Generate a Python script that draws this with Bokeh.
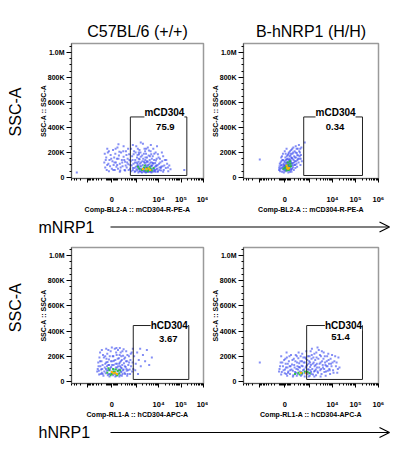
import numpy as np
from bokeh.plotting import figure
from bokeh.layouts import column, row
from bokeh.models import (Range1d, FixedTicker, CustomJSTickFormatter, Label, Arrow, OpenHead)
from bokeh.embed import file_html
from bokeh.resources import INLINE

FONT = "Liberation Sans"
COFACTOR = 164.0

# ---------------- texts ----------------
col_titles = ["C57BL/6 (+/+)", "B-hNRP1 (H/H)"]
row_markers = ["mNRP1", "hNRP1"]
x_axis_labels = ["Comp-BL2-A :: mCD304-R-PE-A", "Comp-RL1-A :: hCD304-APC-A"]
y_axis_label = "SSC-A :: SSC-A"
big_y_label = "SSC-A"

# ---------------- axis ticks ----------------
y_tick_vals = [0, 200000, 400000, 600000, 800000, 1000000]
y_tick_text = ["0", "200K", "400K", "600K", "800K", "1.0M"]
x_tick_vals = [-1000, 0, 1000, 10000, 100000, 1000000]
x_tick_text = ["", "0", "", "10\u2074", "10\u2075", "10\u2076"]

# ---------------- gates ----------------
gate_names = ["mCD304", "mCD304", "hCD304", "hCD304"]
gate_pcts = ["75.9", "0.34", "3.67", "51.4"]
gate_x0 = [538, 538, 731, 731]
gate_x1 = [182000, 202000, 223000, 202000]
gate_y0 = [16000, 16000, 16000, 16000]
gate_y1 = [484000, 484000, 444000, 444000]
name_x = [18150, 13500, 30000, 30000]
name_y = [516000, 516000, 446000, 446000]
pct_x = [20000, 12800, 27000, 22000]
pct_y = [405000, 405000, 341000, 349000]

# ---------------- events (fluorescence, SSC in K) ----------------
p1_blue = [
    (-140, 120), (-120, 80), (-100, 160), (-90, 60), (-70, 200), (-60, 110), (-40, 140), (-30, 90),
    (-20, 180), (0, 70), (10, 130), (20, 220), (30, 100), (40, 160), (50, 60), (60, 190), (70, 120),
    (80, 85), (90, 150), (100, 240), (110, 70), (130, 175), (150, 110), (160, 55), (180, 200),
    (200, 140), (220, 90), (250, 165), (280, 60), (300, 125), (330, 210), (360, 80), (400, 150),
    (430, 105), (470, 185), (520, 70), (560, 130), (580, 230), (-80, 230), (250, 250), (120, 265),
    (-130, 190), (-110, 140), (-80, 100), (-50, 210), (-10, 150), (25, 60), (45, 120), (65, 230),
    (95, 100), (120, 150), (140, 205), (170, 80), (210, 120), (240, 210), (270, 140), (320, 95),
    (350, 180), (380, 120), (420, 230), (450, 60), (490, 140), (540, 100), (600, 50),
    (650, 170), (700, 60), (750, 110), (800, 210), (850, 45), (900, 140), (950, 85), (1000, 250),
    (1050, 120), (1100, 55), (1150, 180), (1200, 95), (1250, 40), (1300, 150), (1350, 75),
    (1400, 220), (1450, 110), (1500, 50), (1600, 165), (1700, 90), (1800, 40), (1900, 130),
    (2000, 270), (2100, 70), (2200, 190), (2300, 55), (2400, 115), (2500, 45), (2600, 160),
    (2700, 85), (2800, 230), (2900, 60), (3000, 130), (3200, 45), (3400, 100), (3600, 175),
    (3800, 65), (4000, 140), (4200, 50), (4400, 210), (4600, 90), (4800, 40), (5000, 150),
    (5300, 70), (5600, 115), (6000, 55), (6400, 190), (6800, 85), (7200, 45), (7600, 135),
    (8000, 65), (8500, 250), (9000, 100), (9500, 50), (10000, 160), (11000, 80), (12000, 120),
    (13000, 55), (14000, 200), (15000, 90), (17000, 60), (19000, 140), (21000, 75), (24000, 110),
    (27000, 50), (30000, 95), (34000, 65), (1300, 200), (2500, 210), (3300, 240), (5800, 230),
    (700, 260), (1600, 280), (4500, 260),
    (620, 95), (680, 140), (760, 185), (820, 75), (880, 120), (940, 200), (1020, 65), (1080, 160),
    (1130, 110), (1180, 230), (1230, 70), (1280, 125), (1330, 185), (1380, 50), (1420, 145),
    (1480, 90), (1550, 200), (1650, 120), (1750, 70), (1850, 175), (1950, 100), (2050, 150),
    (2150, 45), (2250, 125), (2350, 230), (2450, 75), (2550, 140), (2650, 100), (2750, 190),
    (2850, 120), (2950, 45), (3050, 160), (3300, 125), (3500, 80), (3700, 215), (3900, 105),
    (4100, 170), (4300, 120), (4500, 45), (4700, 185), (4900, 120), (5200, 95), (5500, 170),
    (5900, 110), (6300, 140), (6600, 50), (7000, 115), (7400, 200), (7800, 95), (8200, 150),
    (8800, 70), (9300, 185), (10500, 110), (11500, 150), (12500, 75), (14500, 130), (16000, 170),
    (18000, 95), (22000, 140), (26000, 80),
    (700, 75), (900, 50), (1100, 90), (1500, 65), (1700, 45), (2100, 55), (2700, 40), (3100, 90),
    (3700, 45), (4300, 75), (4900, 95), (5500, 45), (6200, 70), (7000, 60), (8000, 90), (9000, 45),
    (11000, 60), (13000, 85), (16000, 45), (-50, 50), (150, 45), (300, 55), (-3000, 40),
    (140000, 60),
]
p1_mid = [(1400, 70), (1800, 60), (2200, 80), (2600, 55), (3000, 75), (3500, 60), (4000, 85),
          (4500, 65), (5000, 55), (2400, 95), (3300, 50), (1200, 85), (6000, 75)]
p1_hot = [(2800, 65), (3600, 72), (4200, 60), (2000, 68)]

p2_blue = [
    (-100, 60), (-90, 90), (-80, 50), (-70, 120), (-60, 75), (-50, 100), (-45, 45), (-40, 140),
    (-30, 65), (-25, 85), (-20, 110), (-10, 55), (-5, 130), (0, 70), (5, 95), (10, 160), (15, 50),
    (20, 80), (25, 120), (30, 60), (35, 145), (40, 100), (45, 75), (50, 180), (55, 55), (60, 125),
    (65, 90), (70, 200), (75, 65), (80, 150), (85, 110), (90, 45), (95, 85), (100, 175), (105, 130),
    (110, 60), (115, 220), (120, 95), (125, 155), (130, 70), (140, 190), (145, 115), (150, 80),
    (160, 240), (165, 140), (170, 60), (180, 170), (185, 100), (190, 210), (200, 130), (210, 75),
    (220, 250), (230, 160), (240, 110), (250, 195), (260, 85), (270, 140), (280, 230), (300, 175),
    (310, 120), (320, 260), (340, 150), (360, 200), (380, 100), (400, 180), (420, 240), (440, 130),
    (-1000, 143), (600, 280), (-60, 160), (-30, 190), (0, 210), (30, 230), (-15, 40), (60, 40),
    (120, 45),
    (-95, 75), (-85, 110), (-75, 65), (-65, 95), (-55, 130), (-35, 80), (-15, 100), (0, 120),
    (8, 85), (12, 60), (18, 140), (22, 105), (28, 75), (33, 170), (38, 120), (42, 90), (48, 150),
    (52, 65), (58, 110), (62, 190), (68, 140), (72, 85), (78, 120), (82, 170), (88, 95), (92, 210),
    (98, 140), (102, 70), (108, 190), (112, 120), (118, 160), (128, 110), (135, 230), (142, 150),
    (148, 95), (155, 200), (175, 120), (195, 160), (205, 100), (215, 200), (235, 130), (245, 230),
    (265, 180), (290, 150), (330, 210), (350, 170), (370, 230), (390, 150), (-45, 170), (-25, 140),
    (15, 190), (-5, 90),
]
p2_mid = [(0, 75), (20, 90), (40, 65), (60, 100), (80, 80), (100, 110), (30, 55), (70, 60),
          (110, 90), (50, 120), (-20, 70), (90, 130)]
p2_hot = [(40, 80), (70, 75), (30, 95), (60, 70), (45, 72)]

p3_blue = [
    (-350, 80), (-300, 120), (-280, 55), (-250, 160), (-220, 95), (-200, 70), (-180, 130),
    (-160, 45), (-150, 190), (-130, 110), (-110, 65), (-100, 150), (-90, 85), (-80, 220), (-70, 50),
    (-60, 130), (-50, 175), (-40, 95), (-30, 60), (-20, 240), (-10, 115), (0, 80), (10, 160),
    (20, 50), (25, 200), (30, 130), (40, 95), (50, 260), (55, 70), (60, 170), (70, 110), (80, 45),
    (85, 210), (90, 140), (100, 80), (110, 250), (115, 120), (120, 60), (130, 185), (140, 95),
    (150, 150), (160, 50), (170, 230), (180, 110), (190, 75), (200, 170), (210, 130), (220, 60),
    (235, 205), (250, 95), (260, 145), (280, 70), (300, 190), (320, 115), (340, 240), (360, 85),
    (380, 160), (400, 60), (430, 130), (460, 200), (500, 95), (540, 170), (580, 120), (620, 230),
    (680, 150), (730, 100), (-250, 230), (-180, 60), (-120, 200), (-40, 40), (60, 40), (140, 40),
    (200, 45), (0, 270), (80, 265), (-60, 250), (300, 60), (380, 45),
    (-330, 100), (-310, 150), (-290, 85), (-270, 190), (-240, 120), (-230, 60), (-210, 160),
    (-190, 100), (-170, 210), (-140, 80), (-120, 140), (-105, 100), (-95, 180), (-85, 120),
    (-75, 155), (-65, 90), (-55, 60), (-45, 130), (-35, 200), (-25, 105), (-15, 160), (-5, 70),
    (5, 130), (15, 200), (35, 165), (45, 60), (65, 140), (75, 230), (95, 110), (105, 180),
    (125, 90), (135, 140), (145, 210), (155, 120), (165, 80), (175, 160), (185, 200), (195, 105),
    (215, 240), (230, 90), (270, 180), (290, 120), (330, 160), (350, 100), (390, 210), (420, 90),
    (470, 150), (520, 60), (560, 220), (650, 80), (-200, 250), (-100, 260), (150, 265), (250, 255),
    (800, 200), (950, 140), (1100, 230), (1300, 170), (1600, 120), (2000, 210), (2500, 160),
    (3000, 250), (3800, 130), (5000, 190), (900, 90), (1200, 60), (1500, 260), (700, 260),
]
p3_mid = [(-80, 70), (-40, 90), (0, 60), (20, 100), (50, 75), (80, 55), (110, 85), (140, 65),
          (-20, 50), (30, 80), (70, 95), (100, 50), (-60, 105), (160, 90)]
p3_hot = [(30, 65), (60, 70), (90, 60), (0, 75)]

p4_blue = [
    (-100, 80), (-80, 120), (-60, 55), (-40, 150), (-20, 90), (0, 65), (10, 180), (20, 110),
    (40, 45), (50, 140), (60, 80), (80, 200), (90, 60), (100, 120), (120, 95), (140, 170), (160, 50),
    (180, 130), (200, 75), (220, 210), (240, 100), (260, 150), (280, 60), (300, 185), (320, 115),
    (350, 80), (380, 160), (400, 45), (430, 125), (460, 220), (500, 90), (540, 150), (580, 65),
    (620, 190), (660, 110), (700, 240), (720, 70), (-60, 200), (30, 230), (150, 40), (250, 45),
    (450, 55), (600, 40), (-1000, 150),
    (-90, 100), (-70, 150), (-50, 75), (-30, 120), (-10, 170), (5, 95), (15, 140), (25, 60),
    (35, 190), (45, 110), (55, 70), (70, 160), (85, 120), (95, 90), (110, 210), (130, 135),
    (150, 85), (170, 180), (190, 110), (210, 160), (230, 70), (250, 200), (270, 120), (290, 95),
    (310, 230), (330, 145), (360, 110), (390, 200), (420, 75), (450, 160), (480, 120), (520, 190),
    (560, 95), (600, 150), (640, 75), (680, 180), (710, 120),
    (760, 130), (800, 60), (850, 200), (900, 95), (950, 160), (1000, 45), (1050, 115), (1100, 240),
    (1150, 75), (1200, 180), (1300, 100), (1400, 55), (1500, 150), (1600, 220), (1700, 85),
    (1800, 130), (1900, 50), (2000, 190), (2100, 110), (2300, 70), (2500, 250), (2700, 140),
    (2900, 90), (3100, 200), (3300, 60), (3500, 160), (3800, 110), (4100, 230), (4400, 75),
    (4700, 150), (5000, 45), (5400, 120), (5800, 200), (6200, 85), (6700, 170), (7200, 100),
    (7800, 60), (8500, 140), (9500, 210), (10500, 90), (12000, 160), (14000, 120), (16000, 70),
    (18000, 190), (20000, 110), (1250, 260), (2200, 270), (3000, 40), (900, 40), (1600, 40),
    (780, 170), (830, 95), (880, 140), (930, 70), (980, 200), (1030, 150), (1080, 90), (1130, 130),
    (1180, 60), (1230, 210), (1350, 140), (1450, 190), (1550, 80), (1650, 120), (1750, 170),
    (1850, 95), (1950, 230), (2050, 140), (2200, 80), (2400, 180), (2600, 110), (2800, 210),
    (3000, 150), (3200, 100), (3400, 240), (3700, 130), (4000, 180), (4300, 100), (4600, 200),
    (4900, 130), (5200, 80), (5600, 160), (6000, 120), (6500, 220), (7000, 140), (7500, 90),
    (8200, 180), (9000, 120), (10000, 150), (11000, 70), (13000, 200), (15000, 150), (17000, 100),
]
p4_mid = [(200, 60), (300, 70), (450, 65), (600, 80), (800, 75), (350, 55), (1000, 65)]
p4_hot = [(400, 70), (700, 65)]

panel_events = [(p1_blue, p1_mid, p1_hot), (p2_blue, p2_mid, p2_hot),
                (p3_blue, p3_mid, p3_hot), (p4_blue, p4_mid, p4_hot)]
density_colors = ["#3344ee", "#22c03a", "#ffb300"]
density_alpha = [0.6, 0.9, 1.0]


def T(v):
    """biexponential-like display transform (arcsinh, decades)."""
    return np.arcsinh(np.asarray(v, dtype=float) / COFACTOR) / np.log(10)


# minor ticks of the biex axis
x_minor = []
for dec in [100, 1000, 10000, 100000]:
    for k in range(1, 10):
        x_minor.append(k * dec)
        x_minor.append(-k * dec)
for k in [20, 40, 60, 80]:
    x_minor += [k, -k]
x_minor = [float(T(v)) for v in sorted(set(x_minor)) if v not in x_tick_vals]
x_major = [float(T(v)) for v in x_tick_vals]
x_labels = {f"{t:.3f}": s for t, s in zip(x_major, x_tick_text)}
y_labels = {str(v): s for v, s in zip(y_tick_vals, y_tick_text)}
y_minor = [v for v in range(0, 1050001, 50000) if v not in y_tick_vals]


def make_panel(i, width, height, left, right, top, bottom, y_rng, title):
    p = figure(width=width, height=height, x_range=Range1d(-1.80, 4.09), y_range=Range1d(*y_rng),
               output_backend="svg", toolbar_location=None, title=title,
               min_border_left=left, min_border_right=right,
               min_border_top=top, min_border_bottom=bottom)
    p.grid.visible = False
    p.outline_line_color = "#9a9a9a"
    p.outline_line_width = 1.5
    p.background_fill_color = "white"
    if title is not None:
        p.title.align = "center"
        p.title.text_font = FONT
        p.title.text_font_size = "16px"
        p.title.text_font_style = "normal"
        p.title.text_color = "black"
        p.title.standoff = 7

    blue, mid, hot = panel_events[i]
    for pts, col, al in zip((blue, mid, hot), density_colors, density_alpha):
        xs = T([a for a, b in pts])
        ys = np.array([b for a, b in pts], dtype=float) * 1000
        p.scatter(xs, ys, marker="square", size=2, fill_color=col, line_color=None, fill_alpha=al)

    p.quad(left=[float(T(gate_x0[i]))], right=[float(T(gate_x1[i]))],
           bottom=[gate_y0[i]], top=[gate_y1[i]],
           fill_color=None, line_color="#222222", line_width=1)
    p.add_layout(Label(x=float(T(name_x[i])), y=name_y[i], text=gate_names[i], text_font=FONT,
                       text_font_style="bold", text_font_size="10px", text_align="center",
                       text_baseline="middle", background_fill_color="white", text_color="black"))
    p.add_layout(Label(x=float(T(pct_x[i])), y=pct_y[i], text=gate_pcts[i], text_font=FONT,
                       text_font_style="bold", text_font_size="9.5px", text_align="center",
                       text_baseline="middle", text_color="black"))

    xa = p.xaxis[0]
    xa.ticker = FixedTicker(ticks=x_major, minor_ticks=x_minor)
    xa.formatter = CustomJSTickFormatter(args=dict(labels=x_labels),
                                         code="const k = tick.toFixed(3); return (k in labels) ? labels[k] : '';")
    xa.major_tick_out = 4
    xa.major_tick_in = 0
    xa.minor_tick_out = 2
    xa.minor_tick_in = 0
    xa.major_label_standoff = 12
    xa.major_label_text_font = FONT
    xa.major_label_text_font_size = "7.5px"
    xa.major_label_text_font_style = "bold"
    xa.major_label_text_color = "black"
    xa.axis_line_color = "#555555"
    xa.major_tick_line_color = "black"
    xa.minor_tick_line_color = "black"
    xa.axis_label = x_axis_labels[i // 2]
    xa.axis_label_text_font = FONT
    xa.axis_label_text_font_size = "7px"
    xa.axis_label_text_font_style = "bold"
    xa.axis_label_text_color = "black"
    xa.axis_label_standoff = -1

    ya = p.yaxis[0]
    ya.ticker = FixedTicker(ticks=y_tick_vals, minor_ticks=y_minor)
    ya.formatter = CustomJSTickFormatter(args=dict(labels=y_labels),
                                         code="const k = String(Math.round(tick)); return (k in labels) ? labels[k] : '';")
    ya.major_tick_out = 5
    ya.major_tick_in = 0
    ya.minor_tick_out = 2
    ya.minor_tick_in = 0
    ya.major_label_standoff = 2
    ya.major_label_text_font = FONT
    ya.major_label_text_font_size = "7px"
    ya.major_label_text_font_style = "bold"
    ya.major_label_text_color = "black"
    ya.axis_line_color = "#555555"
    ya.major_tick_line_color = "black"
    ya.minor_tick_line_color = "black"
    ya.axis_label = y_axis_label
    ya.axis_label_text_font = FONT
    ya.axis_label_text_font_size = "7px"
    ya.axis_label_text_font_style = "bold"
    ya.axis_label_text_color = "black"
    ya.axis_label_standoff = -2
    return p


def side_label_fig(h, yc):
    f = figure(width=28, height=h, x_range=Range1d(0, 28), y_range=Range1d(0, h),
               output_backend="svg", toolbar_location=None, min_border=0,
               x_axis_type=None, y_axis_type=None, outline_line_color=None)
    f.add_layout(Label(x=7, y=yc, text=big_y_label, angle=np.pi / 2, text_font=FONT,
                       text_font_size="16px", text_align="center", text_baseline="middle",
                       text_color="black"))
    return f


def arrow_fig(text, h, yc):
    f = figure(width=383, height=h, x_range=Range1d(0, 383), y_range=Range1d(0, h),
               output_backend="svg", toolbar_location=None, min_border=0,
               x_axis_type=None, y_axis_type=None, outline_line_color=None)
    f.add_layout(Label(x=30, y=yc, text=text, text_font=FONT, text_font_size="16px",
                       text_baseline="middle", text_color="black"))
    f.add_layout(Arrow(end=OpenHead(size=10, line_width=1.2, line_color="black"),
                       x_start=102, y_start=yc, x_end=381, y_end=yc,
                       line_width=1.2, line_color="black"))
    return f


s1 = side_label_fig(207, 102)
f1 = make_panel(0, 172, 207, 31, 5, 35, 36, (-8000, 1071000), col_titles[0])
f2 = make_panel(1, 183, 207, 34, 13, 35, 36, (-8000, 1071000), col_titles[1])
fa = arrow_fig(row_markers[0], 22, 10.5)
s2 = side_label_fig(183, 102)
f3 = make_panel(2, 172, 183, 31, 5, 10, 37, (-16000, 1063000), None)
f4 = make_panel(3, 183, 183, 34, 13, 10, 37, (-16000, 1063000), None)
fb = arrow_fig(row_markers[1], 21, 9)

layout = column(row(s1, f1, f2), fa, row(s2, f3, f4), fb, margin=(8, 8, 8, 8))
open("out.html", "w").write(file_html(layout, INLINE))
